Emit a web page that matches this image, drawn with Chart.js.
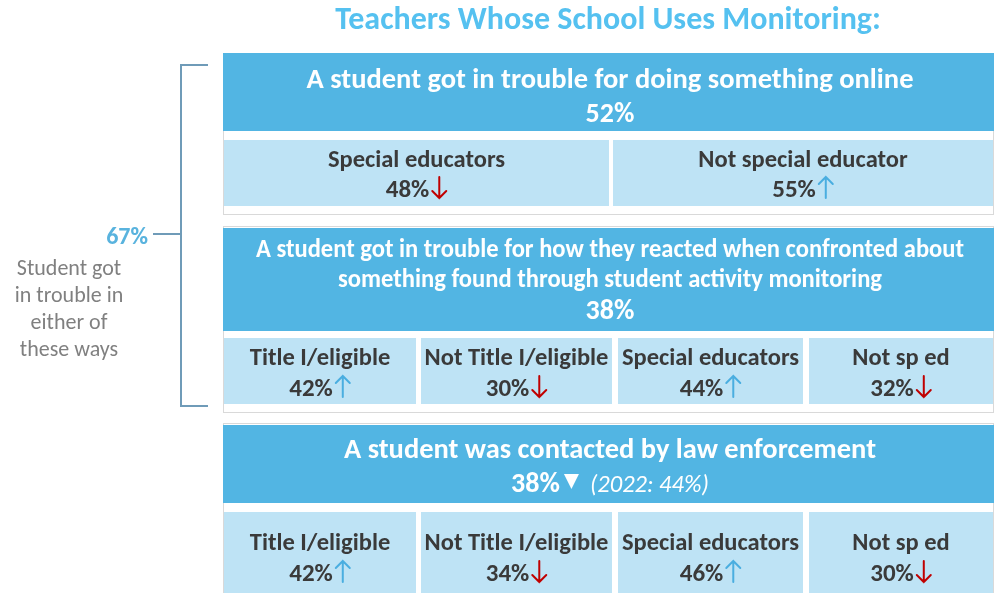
<!DOCTYPE html>
<html>
<head>
<meta charset="utf-8">
<script src="https://cdn.jsdelivr.net/npm/chart.js@4.4.1/dist/chart.umd.min.js"></script>
<style>
  html, body { margin: 0; padding: 0; background: #fff; }
  canvas { display: block; }
</style>
</head>
<body>
<canvas id="board" width="994" height="593"></canvas>
<script>
// ---- data ----
const chartTitle = 'Teachers Whose School Uses Monitoring:';
const panelHeadings = [
  ['A student got in trouble for doing something online'],
  ['A student got in trouble for how they reacted when confronted about',
   'something found through student activity monitoring'],
  ['A student was contacted by law enforcement']
];
const panelTotals = [52, 38, 38];
const panelTotalChange = [null, null, 'down'];
const panelPrior = [null, null, '(2022: 44%)'];
const groupLabels = [
  ['Special educators', 'Not special educator'],
  ['Title I/eligible', 'Not Title I/eligible', 'Special educators', 'Not sp ed'],
  ['Title I/eligible', 'Not Title I/eligible', 'Special educators', 'Not sp ed']
];
const groupValues = [
  [48, 55],
  [42, 30, 44, 32],
  [42, 34, 46, 30]
];
const groupTrend = [
  ['down', 'up'],
  ['up', 'down', 'up', 'down'],
  ['up', 'down', 'up', 'down']
];
const eitherValue = 67;
const eitherLabel = ['Student got', 'in trouble in', 'either of', 'these ways'];

// ---- layout (pixel space of the hidden axes) ----
const fourCols = [[224, 416], [421, 612], [618, 803], [809, 993]];
const panels = [
  { top: 53, bottom: 214, headBottom: 131, subTop: 140, subBottom: 206,
    cols: [[224, 609], [613, 993]], headLines: [88], totalLine: 122, subLines: [167, 197],
    headSize: 28.5, headWidth: [608] },
  { top: 226, bottom: 412, headBottom: 331, subTop: 338, subBottom: 404,
    cols: fourCols, headLines: [257, 287], totalLine: 319, subLines: [365, 396],
    headSize: 26, headWidth: [708, 544] },
  { top: 423, bottom: 600, headBottom: 503, subTop: 512, subBottom: 600,
    cols: fourCols, headLines: [458], totalLine: 492, subLines: [550, 581],
    headSize: 28.5, headWidth: [532] }
];

const FAM = 'Carlito, Lato, "Open Sans", sans-serif';
const HEAD_BLUE = '#52b5e3';
const CELL_BLUE = '#bee3f5';
const DARK = '#3a3a3a';
const UP = '#4aaee0';
const DOWN = '#c00000';

function arrow(ctx, x, base, dir, color) {
  // thin arrow roughly one cap height tall
  const top = base - 20, bot = base + 1;
  ctx.save();
  ctx.strokeStyle = color;
  ctx.lineWidth = 2;
  ctx.lineCap = 'round';
  ctx.beginPath();
  ctx.moveTo(x, top);
  ctx.lineTo(x, bot);
  if (dir === 'down') {
    ctx.moveTo(x - 7, bot - 7); ctx.lineTo(x, bot); ctx.lineTo(x + 7, bot - 7);
  } else {
    ctx.moveTo(x - 7, top + 7); ctx.lineTo(x, top); ctx.lineTo(x + 7, top + 7);
  }
  ctx.stroke();
  ctx.restore();
}

const infographic = {
  id: 'infographic',
  afterDraw(chart) {
    const ctx = chart.ctx;
    const sx = chart.scales.x, sy = chart.scales.y;
    const X = v => sx.getPixelForValue(v);
    const Y = v => sy.getPixelForValue(v);
    const rect = (x0, y0, x1, y1, fill) => {
      ctx.fillStyle = fill;
      ctx.fillRect(X(x0), Y(y0), X(x1) - X(x0), Y(y1) - Y(y0));
    };
    ctx.save();
    ctx.textAlign = 'center';
    ctx.textBaseline = 'alphabetic';

    // title
    ctx.fillStyle = '#55c1f0';
    ctx.font = 'bold 32px ' + FAM;
    ctx.fillText(chartTitle, X(608), Y(29), 548);

    panels.forEach((p, i) => {
      // outer frame
      ctx.strokeStyle = '#d9d9d9';
      ctx.lineWidth = 1;
      ctx.strokeRect(X(223) + 0.5, Y(p.top) + 0.5, X(993) - X(223), Y(p.bottom) - Y(p.top));
      rect(223, p.top + (i ? 2 : 0), 994, p.headBottom, HEAD_BLUE);

      // heading
      const cx = X(610);
      ctx.fillStyle = '#fff';
      ctx.font = 'bold ' + p.headSize + 'px ' + FAM;
      panelHeadings[i].forEach((line, k) => ctx.fillText(line, cx, Y(p.headLines[k]), p.headWidth[k]));

      // total
      const tot = panelTotals[i] + '%';
      if (panelPrior[i]) {
        ctx.font = 'bold 28px ' + FAM;
        const w1 = ctx.measureText(tot).width;
        ctx.font = 'italic 24.5px ' + FAM;
        const w3 = ctx.measureText(panelPrior[i]).width;
        const total = w1 + 4 + 14 + 12 + w3;
        let x = cx - total / 2;
        ctx.textAlign = 'left';
        ctx.font = 'bold 28px ' + FAM;
        ctx.fillText(tot, x, Y(p.totalLine));
        x += w1 + 4;
        const b = Y(p.totalLine);
        if (panelTotalChange[i] === 'down') {
          ctx.beginPath();
          ctx.moveTo(x, b - 18); ctx.lineTo(x + 15, b - 18); ctx.lineTo(x + 7.5, b - 3); ctx.closePath();
          ctx.fill();
        }
        x += 14 + 12;
        ctx.font = 'italic 24.5px ' + FAM;
        ctx.fillText(panelPrior[i], x, b);
        ctx.textAlign = 'center';
      } else {
        ctx.font = 'bold 28px ' + FAM;
        ctx.fillText(tot, cx, Y(p.totalLine));
      }

      // sub groups
      p.cols.forEach((c, j) => {
        rect(c[0], p.subTop, c[1], p.subBottom, CELL_BLUE);
        const mx = X((c[0] + c[1]) / 2);
        ctx.fillStyle = DARK;
        ctx.font = 'bold 24.5px ' + FAM;
        ctx.fillText(groupLabels[i][j], mx, Y(p.subLines[0]), X(c[1]) - X(c[0]) - 6);
        ctx.font = 'bold 25px ' + FAM;
        const v = groupValues[i][j] + '%';
        const w = ctx.measureText(v).width;
        const x0 = mx - (w + 18) / 2;
        ctx.textAlign = 'left';
        ctx.fillText(v, x0, Y(p.subLines[1]));
        ctx.textAlign = 'center';
        const t = groupTrend[i][j];
        arrow(ctx, x0 + w + 10, Y(p.subLines[1]), t, t === 'up' ? UP : DOWN);
      });
    });

    // bracket joining the first two panels
    ctx.strokeStyle = '#6f9bb8';
    ctx.lineWidth = 2;
    ctx.beginPath();
    ctx.moveTo(X(208), Y(65)); ctx.lineTo(X(181), Y(65));
    ctx.lineTo(X(181), Y(406)); ctx.lineTo(X(208), Y(406));
    ctx.moveTo(X(181), Y(234)); ctx.lineTo(X(153), Y(234));
    ctx.stroke();

    ctx.textAlign = 'right';
    ctx.fillStyle = '#59b3de';
    ctx.font = 'bold 24px ' + FAM;
    ctx.fillText(eitherValue + '%', X(148), Y(244));

    ctx.textAlign = 'center';
    ctx.fillStyle = '#808080';
    ctx.font = '22px ' + FAM;
    eitherLabel.forEach((l, k) => ctx.fillText(l, X(69), Y(275 + k * 27)));
    ctx.restore();
  }
};

new Chart(document.getElementById('board'), {
  type: 'scatter',
  data: { datasets: [{ data: [] }] },
  options: {
    responsive: false,
    animation: false,
    layout: { padding: 0 },
    plugins: { legend: { display: false }, tooltip: { enabled: false } },
    scales: {
      x: { type: 'linear', min: 0, max: 994, display: false },
      y: { type: 'linear', min: 0, max: 593, reverse: true, display: false }
    }
  },
  plugins: [infographic]
});
</script>
</body>
</html>
